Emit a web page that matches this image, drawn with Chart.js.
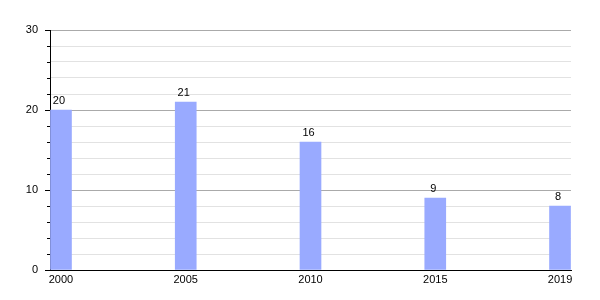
<!DOCTYPE html>
<html>
<head>
<meta charset="utf-8">
<script src="https://cdn.jsdelivr.net/npm/chart.js@4"></script>
<style>
html,body{margin:0;padding:0;background:#fff;}
#wrap{width:600px;height:300px;}
</style>
</head>
<body>
<div id="wrap"><canvas id="c" width="600" height="300"></canvas></div>
<script>
// data
let years = ["2000","2005","2010","2015","2019"];
let values = [20,21,16,9,8];
let yTickLabels = [0,10,20,30];

let fontFam = "'Liberation Sans', Arial, sans-serif";

// small tick marks on the y axis + value labels over bars
let extras = {
id:"extras",
afterDraw(chart){
let ctx = chart.ctx;
let y = chart.scales.y;
let x0 = chart.chartArea.left;
ctx.save();
ctx.strokeStyle = "#000";
ctx.lineWidth = 1;
for(let v=0; v<=30; v+=2){
let py = Math.round(y.getPixelForValue(v)) + 0.5;
let len = (v % 10 === 0) ? 5 : 3;
ctx.beginPath();
ctx.moveTo(x0 - len, py);
ctx.lineTo(x0, py);
ctx.stroke();
}
ctx.fillStyle = "#000";
ctx.font = "11px " + fontFam;
ctx.textAlign = "center";
ctx.textBaseline = "bottom";
let meta = chart.getDatasetMeta(0);
meta.data.forEach((bar, i) => {
ctx.fillText(String(values[i]), bar.x - 2, bar.y - 4);
});
ctx.restore();
}
};

new Chart(document.getElementById("c"), {
type:"bar",
data:{
datasets:[{
data: values.map((v,i) => ({x:i, y:v})),
backgroundColor:"#99aaff",
borderWidth:0,
barThickness:21
}]
},
options:{
responsive:false,
animation:false,
layout:{padding:{left:0,right:29,top:30,bottom:0}},
plugins:{legend:{display:false},tooltip:{enabled:false}},
scales:{
x:{
type:"linear",
offset:false,
min:-0.088,
max:4.088,
afterBuildTicks(scale){
scale.ticks = years.map((_,i) => ({value:i}));
},
afterFit(scale){ scale.height = 30; },
grid:{display:false, drawTicks:false, offset:false},
border:{display:true, color:"#000", width:1},
ticks:{
padding:3,
color:"#000",
font:{family:fontFam, size:11},
maxRotation:0,
autoSkip:false,
callback:(v) => years[v] ?? ""
}
},
y:{
min:0,
max:30,
afterFit(scale){ scale.width = 50; },
afterBuildTicks(scale){
let t = [];
for(let v=0; v<=30; v+=2) t.push({value:v});
scale.ticks = t;
},
grid:{
drawTicks:false,
color:(c) => (c.tick && c.tick.value % 10 === 0 && c.tick.value !== 0) ? "#aaaaaa" : "#e2e2e2"
},
border:{display:true, color:"#000", width:1},
ticks:{
padding:12,
color:"#000",
font:{family:fontFam, size:11},
autoSkip:false,
callback:(v) => yTickLabels.includes(v) ? String(v) : ""
}
}
}
},
plugins:[extras]
});
</script>
</body>
</html>
